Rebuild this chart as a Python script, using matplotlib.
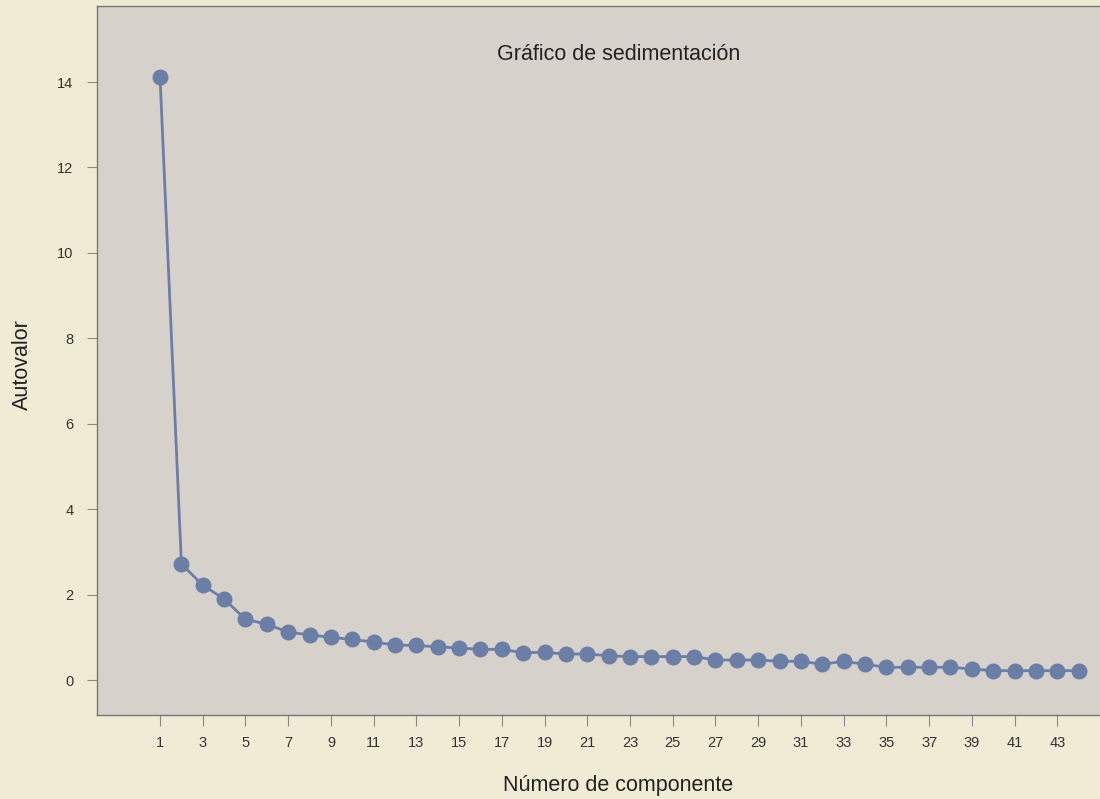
import numpy as np
import matplotlib
matplotlib.use("Agg")
import matplotlib.pyplot as plt

components = list(range(1, 45))
eigenvalues = [
    14.12, 2.72, 2.22, 1.90, 1.42, 1.31, 1.12, 1.06, 1.00, 0.95,
    0.89, 0.82, 0.81, 0.78, 0.75, 0.72, 0.72, 0.64, 0.65, 0.61,
    0.61, 0.57, 0.55, 0.55, 0.55, 0.55, 0.47, 0.47, 0.47, 0.44,
    0.44, 0.37, 0.44, 0.37, 0.30, 0.30, 0.30, 0.30, 0.26, 0.22,
    0.22, 0.22, 0.22, 0.22,
]
xticks = list(range(1, 44, 2))
yticks = [0, 2, 4, 6, 8, 10, 12, 14]

plt.rcParams['font.family'] = ['Liberation Sans', 'DejaVu Sans']

fig = plt.figure(figsize=(11, 7.99), dpi=100, facecolor='#f0ebd4')
ax = fig.add_axes([0.0882, 0.105, 0.9118, 0.8875])
ax.set_facecolor('#d6d2cb')

ax.plot(components, eigenvalues, color='#6a7ea6', linewidth=2.0,
        marker='o', markersize=10.5, markerfacecolor='#6a7ea6',
        markeredgecolor='#6a7ea6')

ax.set_xlim(-1.95, 45.0)
ax.set_ylim(-0.82, 15.78)
ax.set_xticks(xticks)
ax.set_yticks(yticks)
ax.tick_params(axis='both', direction='out', colors='#888888',
               labelcolor='#333333', labelsize=10.5)
ax.tick_params(axis='y', length=7, pad=10)
ax.tick_params(axis='x', length=8, pad=7)

for side in ['left', 'top', 'bottom']:
    ax.spines[side].set_color('#777777')
    ax.spines[side].set_linewidth(1.0)
ax.spines['right'].set_visible(False)

ax.text(0.52, 0.932, 'Gráfico de sedimentación', transform=ax.transAxes,
        ha='center', va='center', fontsize=15.5, color='#222222')
ax.set_xlabel('Número de componente', fontsize=15.5, color='#222222')
ax.xaxis.set_label_coords(0.519, -0.084)
ax.set_ylabel('Autovalor', fontsize=15.5, color='#222222')
ax.yaxis.set_label_coords(-0.064, 0.494)

fig.savefig('out.png', dpi=100, facecolor=fig.get_facecolor())
